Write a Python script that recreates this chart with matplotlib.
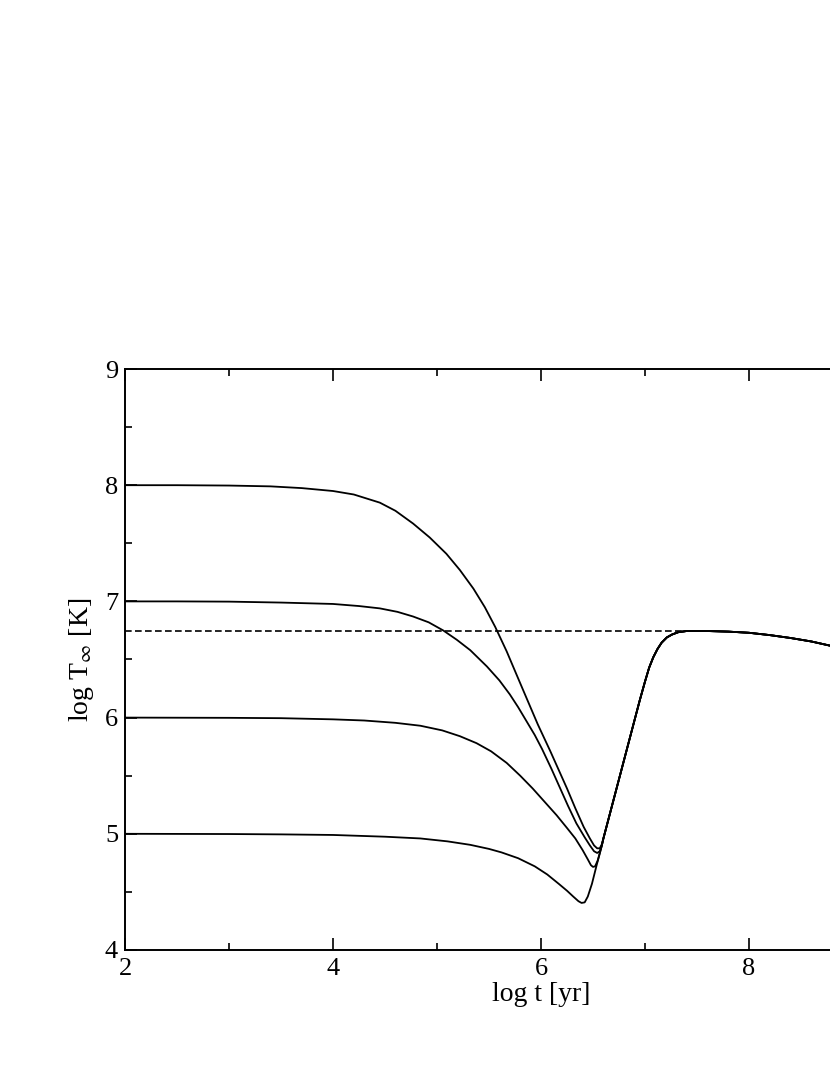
import numpy as np
import matplotlib
matplotlib.use("Agg")
import matplotlib.pyplot as plt
from matplotlib.ticker import MultipleLocator, FixedLocator

plt.rcParams['font.family'] = ['Liberation Serif', 'DejaVu Serif']
plt.rcParams['mathtext.fontset'] = 'stix'

# cooling curves, log t [yr] vs log T_inf [K], for initial log T = 8, 7, 6, 5
t8 = [2.0, 2.5, 3.0, 3.4, 3.7, 4.0, 4.2, 4.45, 4.6, 4.77, 4.93, 5.09, 5.22, 5.35, 5.46, 5.56,
      5.67, 5.76, 5.86, 5.97, 6.09, 6.17, 6.25, 6.33, 6.41, 6.47, 6.51, 6.54, 6.565, 6.585]
T8 = [8.00, 8.00, 7.997, 7.99, 7.975, 7.95, 7.92, 7.85, 7.78, 7.67, 7.55, 7.41, 7.27, 7.11, 6.95, 6.78,
      6.57, 6.38, 6.17, 5.94, 5.71, 5.55, 5.39, 5.22, 5.06, 4.96, 4.90, 4.875, 4.875, 4.91]

t7 = [2.0, 2.5, 3.0, 3.5, 4.0, 4.25, 4.45, 4.62, 4.77, 4.92, 5.06, 5.19, 5.32, 5.48, 5.60, 5.70,
      5.78, 5.86, 5.94, 6.01, 6.10, 6.18, 6.26, 6.34, 6.42, 6.47, 6.51, 6.54, 6.565, 6.585]
T7 = [7.00, 7.00, 6.998, 6.99, 6.978, 6.96, 6.94, 6.91, 6.87, 6.82, 6.75, 6.67, 6.58, 6.44, 6.32, 6.20,
      6.09, 5.97, 5.85, 5.73, 5.56, 5.40, 5.24, 5.09, 4.97, 4.90, 4.85, 4.835, 4.85, 4.90]

t6 = [2.0, 3.0, 3.5, 4.0, 4.3, 4.6, 4.84, 5.05, 5.22, 5.38, 5.52, 5.67, 5.80, 5.92, 6.04, 6.15,
      6.25, 6.33, 6.40, 6.45, 6.48, 6.50, 6.52, 6.545, 6.57, 6.585]
T6 = [6.00, 5.998, 5.995, 5.985, 5.975, 5.955, 5.93, 5.89, 5.84, 5.78, 5.71, 5.61, 5.50, 5.39, 5.27, 5.16,
      5.05, 4.96, 4.86, 4.78, 4.73, 4.715, 4.72, 4.77, 4.85, 4.90]

t5 = [2.0, 3.0, 3.5, 4.0, 4.5, 4.84, 5.1, 5.32, 5.5, 5.62, 5.78, 5.94, 6.06, 6.17, 6.25, 6.31,
      6.36, 6.39, 6.42, 6.45, 6.49, 6.535, 6.565, 6.585]
T5 = [5.00, 4.998, 4.995, 4.99, 4.975, 4.96, 4.935, 4.905, 4.87, 4.84, 4.79, 4.72, 4.65, 4.57, 4.51, 4.46,
      4.42, 4.405, 4.41, 4.46, 4.57, 4.73, 4.83, 4.90]

# shared late-time branch
tail_t = [6.60, 6.65, 6.70, 6.80, 6.90, 6.95, 7.00, 7.04, 7.08, 7.12, 7.16, 7.21, 7.26, 7.32, 7.40,
          7.60, 7.80, 8.00, 8.20, 8.40, 8.60, 8.80, 9.00]
tail_T = [4.96, 5.13, 5.30, 5.64, 5.98, 6.15, 6.31, 6.43, 6.52, 6.59, 6.645, 6.69, 6.715, 6.735, 6.745,
          6.745, 6.74, 6.73, 6.71, 6.685, 6.655, 6.615, 6.57]

# dashed reference level
dash_t = [2.0, 7.4]
dash_T = [6.745, 6.745]

fig = plt.figure(figsize=(8.3, 10.75), dpi=100)
ax = fig.add_axes([125/830, 125/1075, 832/830, 581/1075])

for t, T in [(t8, T8), (t7, T7), (t6, T6), (t5, T5)]:
    ax.plot(np.concatenate([t, tail_t]), np.concatenate([T, tail_T]), color='black', lw=1.3)

ax.plot(dash_t, dash_T, color='black', lw=1.2, linestyle=(0, (4, 2)))

ax.set_xlim(2, 10)
ax.set_ylim(4, 9)
ax.xaxis.set_major_locator(FixedLocator([2, 4, 6, 8]))
ax.xaxis.set_minor_locator(FixedLocator([3, 5, 7, 9]))
ax.yaxis.set_major_locator(MultipleLocator(1))
ax.yaxis.set_minor_locator(MultipleLocator(0.5))
ax.tick_params(which='both', direction='in', top=True, right=True, width=1.2)
ax.tick_params(which='major', length=8.5, labelsize=19)
ax.tick_params(axis='x', which='major', pad=6)
ax.tick_params(axis='y', which='major', pad=5)
ax.tick_params(which='minor', length=5)
for s in ax.spines.values():
    s.set_linewidth(1.4)

ax.set_xlabel('log t [yr]', fontsize=20, labelpad=1)
ax.set_ylabel(r'log T$_\infty$ [K]', fontsize=20, labelpad=6)

fig.savefig('out.png', dpi=100)
